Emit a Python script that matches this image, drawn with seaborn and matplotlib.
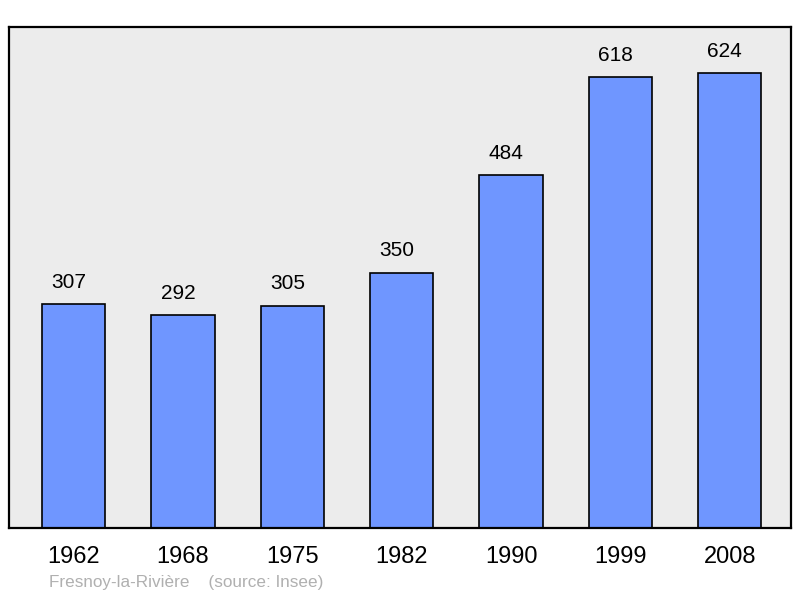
import matplotlib
matplotlib.use("Agg")
import matplotlib.pyplot as plt
import seaborn as sns
import pandas as pd

years = ["1962", "1968", "1975", "1982", "1990", "1999", "2008"]
population = [307, 292, 305, 350, 484, 618, 624]

sns.set_style("white")
plt.rcParams['font.family'] = ['Liberation Sans', 'DejaVu Sans']

df = pd.DataFrame({"year": years, "pop": population})

fig = plt.figure(figsize=(8, 5.98), dpi=100)
ax = fig.add_axes([9 / 800, 1 - 528 / 598, 782 / 800, 501 / 598])
ax.set_facecolor("#ececec")

sns.barplot(data=df, x="year", y="pop", color="#6f96ff", saturation=1,
            edgecolor="black", linewidth=1.2, width=0.58, ax=ax)

for i, v in enumerate(population):
    ax.text(i - 0.045, v + 30, str(v), ha="center", va="center", fontsize=15, color="black")

ax.set_xlim(-0.59, 6.56)
ax.set_ylim(0, 687)
ax.set_yticks([])
ax.set_xlabel("")
ax.set_ylabel("")
ax.tick_params(axis="x", length=0, pad=13, labelsize=17, labelcolor="black")
for s in ax.spines.values():
    s.set_visible(True)
    s.set_color("black")
    s.set_linewidth(1.6)

fig.text(49 / 800, 1 - 583 / 598, "Fresnoy-la-Rivière    (source: Insee)",
         ha="left", va="center", fontsize=12.3, color="#b0b0b0")

fig.savefig("out.png", dpi=100)
